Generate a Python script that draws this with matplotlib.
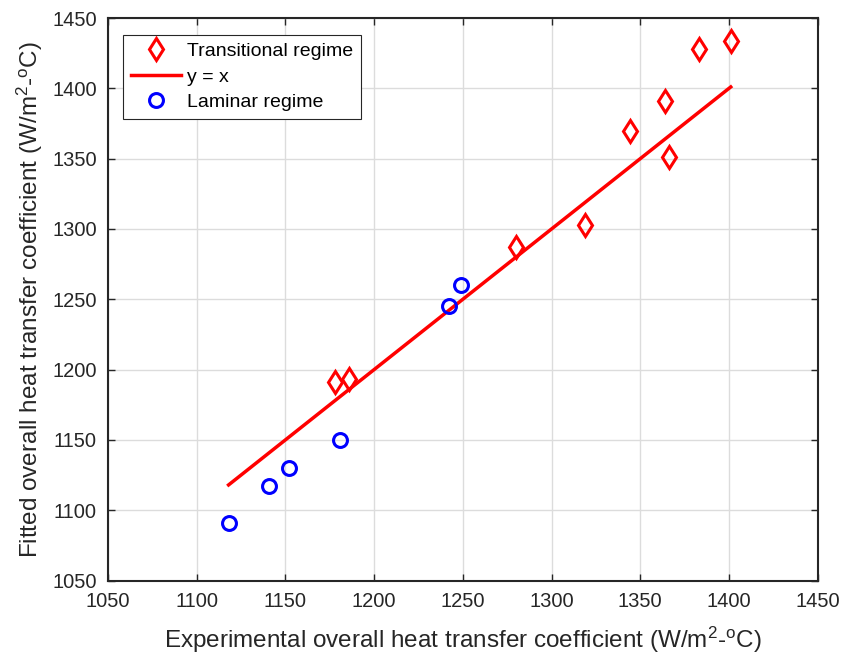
import numpy as np
import matplotlib
matplotlib.use("Agg")
import matplotlib.pyplot as plt

plt.rcParams['font.family'] = ['Liberation Sans', 'DejaVu Sans']
plt.rcParams['mathtext.fontset'] = 'custom'
plt.rcParams['mathtext.rm'] = 'Liberation Sans'
plt.rcParams['mathtext.it'] = 'Liberation Sans'

# transitional regime: experimental vs fitted
trans_exp = [1178, 1186, 1280, 1319, 1344, 1364, 1366, 1383, 1401]
trans_fit = [1191, 1193, 1287, 1303, 1370, 1391, 1351, 1428, 1434]

# laminar regime
lam_exp = [1118, 1141, 1152, 1181, 1242, 1249]
lam_fit = [1091, 1117, 1130, 1150, 1245, 1260]

ticks = [1050, 1100, 1150, 1200, 1250, 1300, 1350, 1400, 1450]
txt = '#262626'

fig = plt.figure(figsize=(8.43, 6.56), dpi=100)
ax = fig.add_axes([0.128, 0.115, 0.842, 0.8575])

ax.plot(trans_exp, trans_fit, linestyle='none', marker='d', markersize=11.5,
        markerfacecolor='none', markeredgecolor='red', markeredgewidth=2.2,
        label='Transitional regime')
xline = np.array([min(lam_exp + trans_exp), max(lam_exp + trans_exp)])
ax.plot(xline, xline, color='red', linewidth=2.5, label='y = x')
ax.plot(lam_exp, lam_fit, linestyle='none', marker='o', markersize=10,
        markerfacecolor='none', markeredgecolor='blue', markeredgewidth=2.2,
        label='Laminar regime')

ax.set_xlim(1050, 1450)
ax.set_ylim(1050, 1450)
ax.set_xticks(ticks)
ax.set_yticks(ticks)
ax.grid(True, color='#dcdcdc', linewidth=1)
ax.set_axisbelow(True)
ax.tick_params(direction='in', top=True, right=True, length=5, width=1,
               labelsize=14.5, colors=txt, pad=8)
for s in ax.spines.values():
    s.set_linewidth(1.5)
    s.set_color(txt)

ax.set_xlabel(r'Experimental overall heat transfer coefficient (W/m$^2$-$^{\rm o}$C)',
              fontsize=17.5, color=txt, labelpad=10)
ax.set_ylabel(r'Fitted overall heat transfer coefficient (W/m$^2$-$^{\rm o}$C)',
              fontsize=17.5, color=txt, labelpad=5)

leg = ax.legend(loc='upper left', bbox_to_anchor=(0.021, 0.97), fontsize=14,
                fancybox=False, framealpha=1, edgecolor='#262626',
                handlelength=2.6, handletextpad=0.3, borderpad=0.4,
                labelspacing=0.4, borderaxespad=0)
leg.get_frame().set_linewidth(0.8)

fig.savefig('out.png', dpi=100)
